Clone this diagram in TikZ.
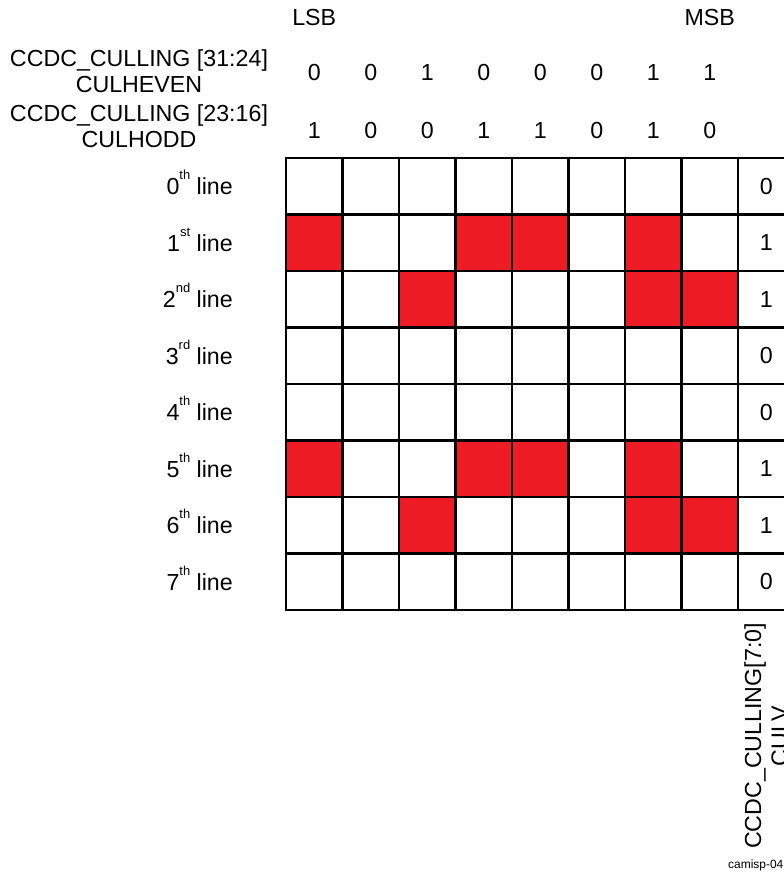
\documentclass[tikz,border=0pt]{standalone}
\usepackage{fontspec}
\setmainfont{Liberation Sans}
\usetikzlibrary{positioning}
\definecolor{cullred}{RGB}{237,28,36}
\newcommand{\lnsup}[1]{\raisebox{15bp}{\fontsize{13}{13}\selectfont #1}}

\begin{document}
\begin{tikzpicture}[
		x=1bp, y=-1bp,
		txt/.style={font=\fontsize{23.3}{26.5}\selectfont, inner sep=0pt},
		cell/.style={draw=black, line width=2.8bp, minimum size=56.5bp,
			inner sep=0pt, outer sep=0pt, font=\fontsize{23.3}{26.5}\selectfont}
	]
		\useasboundingbox (0,0) rectangle (784,875);
		\clip (0,0) rectangle (784,875);

		% culled pixels first, grid drawn over them
		\foreach \row/\col in {1/0,1/3,1/4,1/6,2/2,2/6,2/7,5/0,5/3,5/4,5/6,6/2,6/6,6/7}
			\fill[cullred] (286+56.5*\col,158+56.5*\row) rectangle ++(56.5,56.5);

		\foreach \row in {0,...,7}
			\foreach \col in {0,...,7}
				\node[cell] (c\row\col) at (314.25+56.5*\col,186.25+56.5*\row) {};

		% CULV column
		\foreach \row/\bit in {0/0,1/1,2/1,3/0,4/0,5/1,6/1,7/0}
			\node[cell, right=0pt of c\row7] (v\row) {\bit};

		% line labels
		\foreach \row/\sfx in {0/th,1/st,2/nd,3/rd,4/th,5/th,6/th,7/th}
			\node[txt, anchor=base east] (l\row) at (233,194.5+56.5*\row) {\row\lnsup{\sfx} line};

		% CULHEVEN / CULHODD bits
		\foreach \col/\ev/\od in {0/0/1,1/0/0,2/1/0,3/0/1,4/0/1,5/0/0,6/1/1,7/1/0} {
			\node[txt] (ev\col) at (c0\col |- 0,73) {\ev};
			\node[txt] (od\col) at (c0\col |- 0,131) {\od};
		}

		\node[txt] (lsb) at (c00 |- 0,18) {LSB};
		\node[txt] (msb) at (c07 |- 0,18) {MSB};

		\node[txt, align=center] (even) at (139,71.5) {CCDC\_CULLING [31:24]\\CULHEVEN};
		\node[txt, align=center] (odd) at (139,126.5) {CCDC\_CULLING [23:16]\\CULHODD};

		\node[txt, align=center, rotate=90] (culv) at (766,736) {CCDC\_CULLING[7:0]\\CULV};

		\node[anchor=west, inner sep=0pt, font=\fontsize{12}{12}\selectfont] (fig) at (728,865) {camisp-04};
	\end{tikzpicture}
\end{document}
